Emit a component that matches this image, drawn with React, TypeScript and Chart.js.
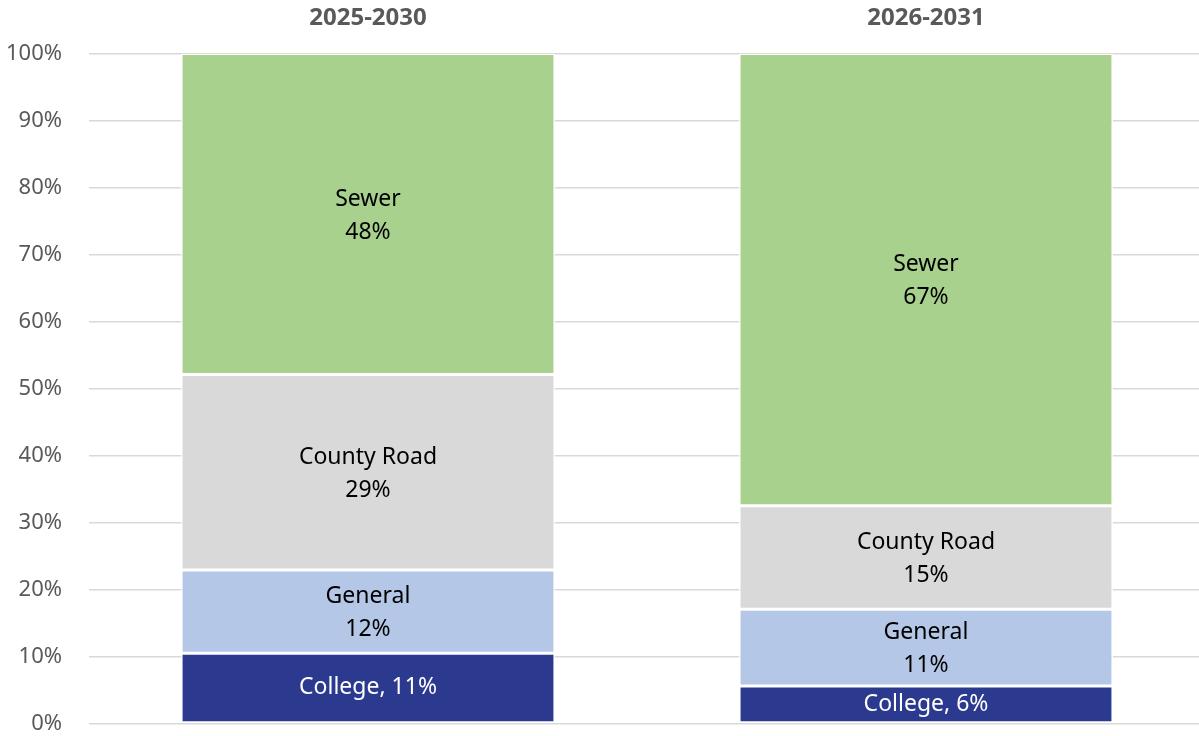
import React, { useEffect, useRef } from "react";
import { Chart, registerables } from "chart.js";

Chart.register(...registerables);

const categories = ["2025-2030", "2026-2031"];
const seriesNames = ["College", "General", "County Road", "Sewer"];
const college = [10.5, 5.6];
const general = [12.4, 11.45];
const countyRoad = [29.2, 15.45];
const sewer = [47.9, 67.49];
const seriesColors = ["#2B3A8F", "#B4C7E7", "#D9D9D9", "#A9D18E"];
const yTicks = [0, 10, 20, 30, 40, 50, 60, 70, 80, 90, 100];

const FONT = "'Noto Sans', 'Open Sans', sans-serif";

const labelPlugin = {
  id: "segLabels",
  afterDatasetsDraw(chart: any) {
    const ctx = chart.ctx;
    ctx.save();
    ctx.textAlign = "center";
    ctx.textBaseline = "middle";
    ctx.font = `23px ${FONT}`;
    chart.data.datasets.forEach((ds: any, di: number) => {
      const meta = chart.getDatasetMeta(di);
      meta.data.forEach((bar: any, i: number) => {
        const { x, y, base } = bar.getProps(["x", "y", "base"], true);
        const cy = (y + base) / 2;
        const pct = Math.round(ds.data[i]) + "%";
        if (di === 0) {
          ctx.fillStyle = "#FFFFFF";
          ctx.fillText(`${ds.label}, ${pct}`, x, cy);
        } else {
          ctx.fillStyle = "#000000";
          ctx.fillText(ds.label, x, cy - 15);
          ctx.fillText(pct, x, cy + 18);
        }
      });
    });
    ctx.restore();
  },
};

export default function App() {
  const ref = useRef<HTMLCanvasElement>(null);
  useEffect(() => {
    document.documentElement.style.overflow = "hidden";
    document.body.style.margin = "0";
    const seriesData = [college, general, countyRoad, sewer];
    const chart = new Chart(ref.current!, {
      type: "bar",
      data: {
        labels: categories,
        datasets: seriesNames.map((name, k) => ({
          label: name,
          data: seriesData[k],
          backgroundColor: seriesColors[k],
          borderColor: "#FFFFFF",
          borderWidth: 1.5,
          borderSkipped: false,
          barPercentage: 0.67,
          categoryPercentage: 1,
        })),
      },
      options: {
        animation: false,
        responsive: true,
        maintainAspectRatio: false,
        layout: { padding: { top: 0, bottom: 12.5, left: 0, right: 1 } },
        plugins: { legend: { display: false }, tooltip: { enabled: false } },
        scales: {
          x: {
            stacked: true,
            position: "top",
            grid: { display: false, drawTicks: false },
            border: { display: false },
            ticks: {
              padding: 21,
              color: "#595959",
              font: { family: FONT, size: 24, weight: "bold" },
            },
            afterFit: (s: any) => {
              s.height = 53.5;
            },
          },
          y: {
            stacked: true,
            min: 0,
            max: 100,
            afterBuildTicks: (s: any) => {
              s.ticks = yTicks.map((v) => ({ value: v }));
            },
            grid: {
              color: "#D9D9D9",
              lineWidth: 1.5,
              drawTicks: true,
              tickLength: 27,
              tickColor: "rgba(0,0,0,0)",
            },
            border: { display: false },
            ticks: {
              padding: 0,
              color: "#595959",
              font: { family: FONT, size: 22, lineHeight: 1 },
              callback: (v: any) => v + "%",
            },
            afterFit: (s: any) => {
              s.width = 89;
            },
          },
        },
      },
      plugins: [labelPlugin],
    });
    return () => chart.destroy();
  }, []);
  return (
    <div style={{ position: "absolute", left: 0, top: 0, width: 1206, height: 736 }}>
      <canvas ref={ref} />
    </div>
  );
}
